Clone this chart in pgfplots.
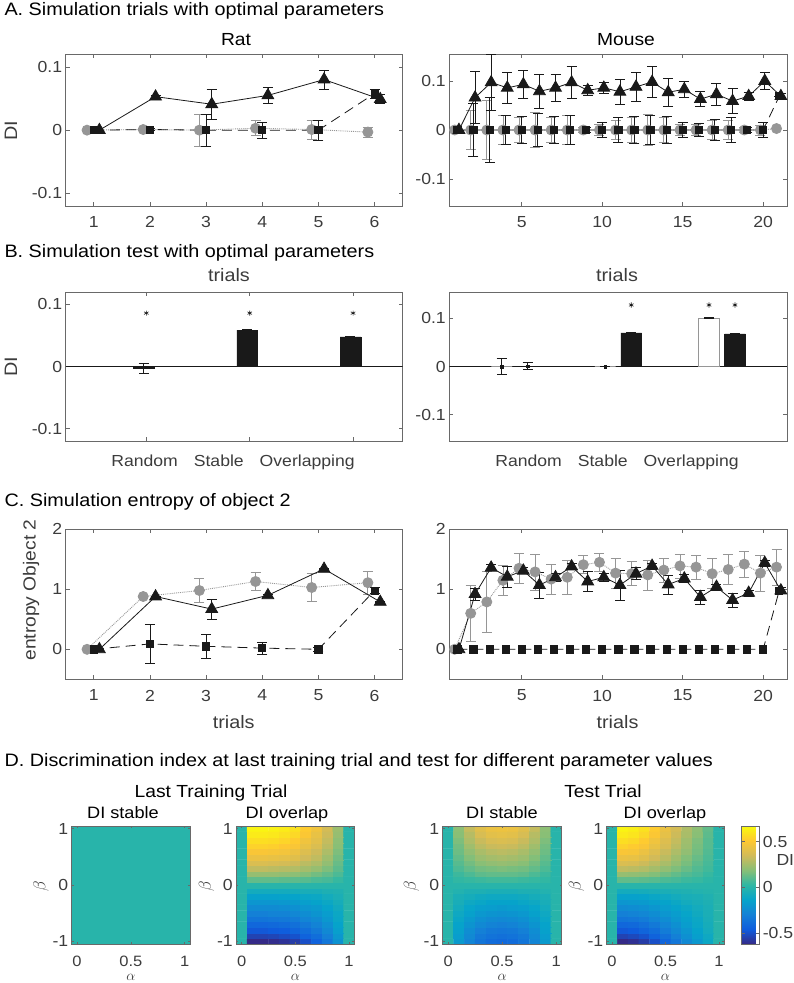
\documentclass[border=0pt]{standalone}
\usepackage{pgfplots}
\pgfplotsset{compat=1.18}
\usepackage{fontspec}
\setmainfont{Liberation Sans}[FakeStretch=1.1]
\newcommand\fs[1]{\fontsize{#1}{#1}\selectfont}
\definecolor{axcol}{RGB}{105,105,105}
\definecolor{tickcol}{RGB}{60,60,60}
\definecolor{cgray}{RGB}{150,150,150}
\definecolor{dark}{RGB}{25,25,25}
\pgfplotsset{
  colormap={parula}{rgb255=(53,42,135) rgb255=(15,92,221) rgb255=(20,129,214) rgb255=(6,164,202) rgb255=(46,183,164) rgb255=(135,191,119) rgb255=(209,187,89) rgb255=(254,200,50) rgb255=(249,251,14)},
  base/.style={scale only axis, anchor=north west, tick align=inside, tick pos=both,
    axis line style={axcol, line width=0.7pt}, major tick style={axcol, line width=0.7pt},
    major tick length=4pt, ticklabel style={font=\fs{16}, text=tickcol},
    xticklabel style={yshift=-7pt}},
  circ/.style={cgray, densely dotted, line width=0.9pt, mark=*, mark size=5pt,
    mark options={solid, fill=cgray, draw=cgray},
    error bars/y dir=both, error bars/y explicit,
    error bars/error bar style={cgray, solid, line width=0.8pt},
    error bars/error mark options={cgray, solid, line width=0.8pt, mark size=5pt, rotate=90}},
  sq/.style={dark, dash pattern=on 10pt off 6pt, line width=0.8pt, mark=square*, mark size=3.6pt,
    mark options={solid, fill=dark},
    error bars/y dir=both, error bars/y explicit,
    error bars/error bar style={dark, solid, line width=0.8pt},
    error bars/error mark options={dark, solid, line width=0.8pt, mark size=5pt, rotate=90}},
  sqn/.style={dark, dash pattern=on 10pt off 6pt, line width=0.8pt, mark=square*, mark size=3.6pt,
    mark options={solid, fill=dark}},
  tri/.style={dark, solid, line width=0.8pt, mark=triangle*, mark size=6.8pt,
    mark options={solid, fill=dark},
    error bars/y dir=both, error bars/y explicit,
    error bars/error bar style={dark, solid, line width=0.8pt},
    error bars/error mark options={dark, solid, line width=0.8pt, mark size=5pt, rotate=90}},
  barerr/.style={error bars/y dir=both, error bars/y explicit,
    error bars/error bar style={dark, line width=0.8pt},
    error bars/error mark options={dark, line width=0.8pt, mark size=5pt, rotate=90}},
  hm/.style={base, width=118pt, height=118pt, xmin=-0.05, xmax=1.05, ymin=-1.05, ymax=1.05,
    xtick={0,0.5,1}, xticklabels={0,0.5,1}, ytick={-1,0,1}, yticklabels={-1,0,1},
    major tick length=2pt, axis on top, colormap name=parula,
    point meta min=-0.62, point meta max=0.67,
    xticklabel style={yshift=-5pt, inner sep=0pt, font=\fs{15}}},
}
\begin{document}
\begin{tikzpicture}
\useasboundingbox (0,0) rectangle (793pt,-983pt);

% ---------------- A ----------------
\node[anchor=base west, font=\fs{18}] at (1pt,-15pt) {A. Simulation trials with optimal parameters};
\node[anchor=base, font=\fs{17.5}] at (236pt,-45pt) {Rat};
\node[anchor=base, font=\fs{17.5}] at (626pt,-45pt) {Mouse};
\node[rotate=90, font=\fs{18}, text=tickcol] at (11pt,-131pt) {DI};

\begin{axis}[base, at={(65.7pt,-54.3pt)}, width=337pt, height=151.7pt,
  xmin=0.5, xmax=6.5, ymin=-0.12, ymax=0.12,
  xtick={1,2,3,4,5,6}, xticklabels={1,2,3,4,5,6},
  ytick={-0.1,0,0.1}, yticklabels={-0.1,0,0.1}]
\addplot[circ] coordinates {(0.88,0) +- (0,0) (1.88,0.001) +- (0,0.001) (2.88,0) +- (0,0.025) (3.88,0.003) +- (0,0.012) (4.88,0.001) +- (0,0.015) (5.88,-0.003) +- (0,0.008)};
\addplot[sq] coordinates {(1,0) +- (0,0) (2,0.001) +- (0,0.001) (3,0) +- (0,0.025) (4,0) +- (0,0.013) (5,0) +- (0,0.016) (6,0.058) +- (0,0.007)};
\addplot[tri] coordinates {(1.1,0) +- (0,0) (2.1,0.053) +- (0,0.002) (3.1,0.041) +- (0,0.024) (4.1,0.055) +- (0,0.013) (5.1,0.08) +- (0,0.015) (6.1,0.049) +- (0,0.007)};
\end{axis}

\begin{axis}[base, at={(449.3pt,-54pt)}, width=338pt, height=152pt,
  xmin=0.5, xmax=21.5, ymin=-0.155, ymax=0.155,
  xtick={5,10,15,20}, xticklabels={5,10,15,20},
  ytick={-0.1,0,0.1}, yticklabels={-0.1,0,0.1}]
\addplot[circ] coordinates {(0.83,0) +- (0,0) (1.83,0) +- (0,0.04) (2.83,0) +- (0,0.06) (3.83,0) +- (0,0.03) (4.83,0) +- (0,0.025) (5.83,0) +- (0,0.035) (6.83,0) +- (0,0.025) (7.83,0) +- (0,0.03) (8.83,0) +- (0,0.005) (9.83,0) +- (0,0.012) (10.83,0) +- (0,0.02) (11.83,0) +- (0,0.025) (12.83,0) +- (0,0.032) (13.83,0) +- (0,0.025) (14.83,0) +- (0,0.012) (15.83,0) +- (0,0.012) (16.83,0) +- (0,0.02) (17.83,0) +- (0,0.02) (18.83,0) +- (0,0.005) (19.83,0) +- (0,0.01) (20.83,0.003) +- (0,0)};
\addplot[sq] coordinates {(1,0) +- (0,0) (2,0) +- (0,0.054) (3,0) +- (0,0.066) (4,0) +- (0,0.03) (5,0) +- (0,0.028) (6,0) +- (0,0.033) (7,0) +- (0,0.027) (8,0) +- (0,0.03) (9,0) +- (0,0.005) (10,0) +- (0,0.016) (11,0) +- (0,0.025) (12,0) +- (0,0.028) (13,0) +- (0,0.03) (14,0) +- (0,0.028) (15,0) +- (0,0.015) (16,0) +- (0,0.014) (17,0) +- (0,0.022) (18,0) +- (0,0.025) (19,0) +- (0,0.005) (20,0) +- (0,0.015) (21,0.069) +- (0,0)};
\addplot[tri] coordinates {(1.1,0) +- (0,0) (2.1,0.066) +- (0,0.053) (3.1,0.097) +- (0,0.058) (4.1,0.086) +- (0,0.031) (5.1,0.093) +- (0,0.029) (6.1,0.079) +- (0,0.034) (7.1,0.086) +- (0,0.027) (8.1,0.097) +- (0,0.032) (9.1,0.081) +- (0,0.01) (10.1,0.086) +- (0,0.011) (11.1,0.078) +- (0,0.025) (12.1,0.088) +- (0,0.029) (13.1,0.098) +- (0,0.032) (14.1,0.077) +- (0,0.028) (15.1,0.083) +- (0,0.016) (16.1,0.063) +- (0,0.015) (17.1,0.073) +- (0,0.023) (18.1,0.059) +- (0,0.026) (19.1,0.069) +- (0,0.008) (20.1,0.10) +- (0,0.017) (21.1,0.069) +- (0,0.005)};
\end{axis}

% ---------------- B ----------------
\node[anchor=base west, font=\fs{18}] at (1pt,-257.5pt) {B. Simulation test with optimal parameters};
\node[anchor=base, font=\fs{18}, text=tickcol] at (229pt,-281pt) {trials};
\node[anchor=base, font=\fs{18}, text=tickcol] at (617pt,-281pt) {trials};
\node[rotate=90, font=\fs{18}, text=tickcol] at (11pt,-367pt) {DI};

\begin{axis}[base, at={(65.7pt,-292pt)}, width=337pt, height=149pt,
  xmin=0.37, xmax=3.63, ymin=-0.12, ymax=0.12,
  xtick={1.15,2.15,3.15}, xticklabels={},
  ytick={-0.1,0,0.1}, yticklabels={-0.1,0,0.1}]
\addplot[dark, line width=0.7pt, forget plot] coordinates {(0.37,0) (3.63,0)};
\addplot[ybar, bar width=0.2, bar shift=0pt, fill=dark, draw=dark, barerr] coordinates {(1.125,-0.003) +- (0,0.0085) (2.125,0.0585) +- (0,0.001) (3.125,0.0477) +- (0,0.001)};
\addplot[only marks, mark=asterisk, mark size=2.6pt, dark, line width=0.6pt] coordinates {(1.15,0.086) (2.15,0.086) (3.15,0.086)};
\end{axis}

\begin{axis}[base, at={(449.3pt,-292pt)}, width=338pt, height=149pt,
  xmin=0.37, xmax=3.63, ymin=-0.155, ymax=0.155,
  xtick=\empty,
  ytick={-0.1,0,0.1}, yticklabels={-0.1,0,0.1}]
\addplot[dark, line width=0.7pt, forget plot] coordinates {(0.37,0) (3.63,0)};
\addplot[ybar, bar width=0.2, bar shift=0pt, fill=white, draw=cgray, barerr] coordinates {(0.875,0) +- (0,0.0167) (1.875,0) +- (0,0) (2.875,0.101) +- (0,0.001)};
\addplot[ybar, bar width=0.2, bar shift=0pt, fill=dark, draw=dark, barerr] coordinates {(1.125,0.001) +- (0,0.008) (2.125,0.07) +- (0,0.001) (3.125,0.068) +- (0,0.001)};
\addplot[only marks, mark=square*, mark size=1.3pt, dark] coordinates {(0.875,0) (1.125,0.001) (1.875,0)};
\addplot[only marks, mark=asterisk, mark size=2.6pt, dark, line width=0.6pt] coordinates {(2.125,0.128) (2.875,0.128) (3.125,0.128)};
\end{axis}
\node[anchor=base, font=\fs{16}, text=tickcol] at (233pt,-466.7pt) {Random\hspace{16pt}Stable\hspace{16pt}Overlapping};
\node[anchor=base, font=\fs{16}, text=tickcol] at (617pt,-466.7pt) {Random\hspace{16pt}Stable\hspace{16pt}Overlapping};

% ---------------- C ----------------
\node[anchor=base west, font=\fs{18}] at (1pt,-506pt) {C. Simulation entropy of object 2};
\node[rotate=90, font=\fs{17.5}, text=tickcol] at (31pt,-590pt) {entropy Object 2};
\node[anchor=base, font=\fs{18}, text=tickcol] at (233.7pt,-728pt) {trials};
\node[anchor=base, font=\fs{18}, text=tickcol] at (617.5pt,-728pt) {trials};

\begin{axis}[base, at={(65.7pt,-529.3pt)}, width=337pt, height=150pt,
  xmin=0.5, xmax=6.5, ymin=-0.5, ymax=2,
  xtick={1,2,3,4,5,6}, xticklabels={1,2,3,4,5,6},
  ytick={0,1,2}, yticklabels={0,1,2}]
\addplot[circ] coordinates {(0.88,0) +- (0,0) (1.88,0.88) +- (0,0.01) (2.88,0.98) +- (0,0.2) (3.88,1.13) +- (0,0.15) (4.88,1.03) +- (0,0.23) (5.88,1.11) +- (0,0.19)};
\addplot[sq] coordinates {(1,0) +- (0,0) (2,0.09) +- (0,0.33) (3,0.05) +- (0,0.2) (4,0.02) +- (0,0.1) (5,0) +- (0,0.03) (6,0.98) +- (0,0.05)};
\addplot[tri] coordinates {(1.1,0) +- (0,0) (2.1,0.88) +- (0,0.01) (3.1,0.67) +- (0,0.17) (4.1,0.9) +- (0,0.01) (5.1,1.34) +- (0,0.01) (6.1,0.79) +- (0,0.01)};
\end{axis}

\begin{axis}[base, at={(449.3pt,-529.3pt)}, width=338pt, height=150pt,
  xmin=0.5, xmax=21.5, ymin=-0.5, ymax=2,
  xtick={5,10,15,20}, xticklabels={5,10,15,20},
  ytick={0,1,2}, yticklabels={0,1,2}]
\addplot[circ] coordinates {(0.83,0) +- (0,0) (1.83,0.6) +- (0,0.46) (2.83,0.79) +- (0,0.51) (3.83,1.15) +- (0,0.25) (4.83,1.35) +- (0,0.25) (5.83,1.29) +- (0,0.3) (6.83,1.17) +- (0,0.25) (7.83,1.2) +- (0,0.28) (8.83,1.41) +- (0,0.15) (9.83,1.45) +- (0,0.15) (10.83,1.27) +- (0,0.25) (11.83,1.26) +- (0,0.2) (12.83,1.24) +- (0,0.25) (13.83,1.32) +- (0,0.2) (14.83,1.39) +- (0,0.2) (15.83,1.37) +- (0,0.2) (16.83,1.26) +- (0,0.25) (17.83,1.33) +- (0,0.25) (18.83,1.42) +- (0,0.22) (19.83,1.27) +- (0,0.3) (20.83,1.37) +- (0,0.3)};
\addplot[sqn] coordinates {(1,0) (2,0) (3,0) (4,0) (5,0) (6,0) (7,0) (8,0) (9,0) (10,0) (11,0) (12,0) (13,0) (14,0) (15,0) (16,0) (17,0) (18,0) (19,0) (20,0) (21,0.98)};
\addplot[tri] coordinates {(1.1,0) +- (0,0) (2.1,0.92) +- (0,0.1) (3.1,1.36) +- (0,0.05) (4.1,1.21) +- (0,0.17) (5.1,1.31) +- (0,0.05) (6.1,1.07) +- (0,0.22) (7.1,1.2) +- (0,0.06) (8.1,1.38) +- (0,0.05) (9.1,1.13) +- (0,0.17) (10.1,1.2) +- (0,0.06) (11.1,1.07) +- (0,0.25) (12.1,1.26) +- (0,0.1) (13.1,1.39) +- (0,0.05) (14.1,1.08) +- (0,0.16) (15.1,1.18) +- (0,0.07) (16.1,0.87) +- (0,0.12) (17.1,1.04) +- (0,0.05) (18.1,0.82) +- (0,0.12) (19.1,0.94) +- (0,0.05) (20.1,1.44) +- (0,0.05) (21.1,0.98) +- (0,0.05)};
\end{axis}

% ---------------- D ----------------
\node[anchor=base west, font=\fs{18}] at (1pt,-766pt) {D. Discrimination index at last training trial and test for different parameter values};
\node[anchor=base, font=\fs{17.5}] at (211pt,-797pt) {Last Training Trial};
\node[anchor=base, font=\fs{17.5}] at (603pt,-797pt) {Test Trial};
\node[anchor=base, font=\fs{16.5}] at (123pt,-818pt) {DI stable};
\node[anchor=base, font=\fs{16.5}] at (287pt,-818pt) {DI overlap};
\node[anchor=base, font=\fs{16.5}] at (502pt,-818pt) {DI stable};
\node[anchor=base, font=\fs{16.5}] at (665pt,-818pt) {DI overlap};
\foreach \bx in {41,206.5,411.5,576.5} {\node[rotate=90, font=\fs{16}, text=tickcol] at (\bx pt,-886pt) {$\beta$};}
\foreach \ax in {130.8,295.3,502.2,665.5} {\node[font=\fs{15}, text=tickcol, inner sep=0pt] at (\ax pt,-977.5pt) {$\alpha$};}
\node[anchor=west, font=\fs{16}, text=tickcol] at (773pt,-860pt) {DI};

\begin{axis}[hm, at={(71.7pt,-826pt)}, width=118.3pt]
\addplot[matrix plot*, mesh/cols=2, point meta=explicit] coordinates {(0,-1) [0] (1,-1) [0] (0,1) [0] (1,1) [0]};
\end{axis}

\begin{axis}[hm, at={(236.3pt,-826pt)}]
\addplot[matrix plot*, mesh/cols=11, point meta=explicit] coordinates {
(0,-1) [0] (0.1,-1) [-0.62] (0.2,-1) [-0.62] (0.3,-1) [-0.61] (0.4,-1) [-0.59] (0.5,-1) [-0.56] (0.6,-1) [-0.50] (0.7,-1) [-0.43] (0.8,-1) [-0.34] (0.9,-1) [-0.22] (1,-1) [0]
(0,-0.9) [0] (0.1,-0.9) [-0.54] (0.2,-0.9) [-0.54] (0.3,-0.9) [-0.53] (0.4,-0.9) [-0.51] (0.5,-0.9) [-0.49] (0.6,-0.9) [-0.43] (0.7,-0.9) [-0.38] (0.8,-0.9) [-0.30] (0.9,-0.9) [-0.19] (1,-0.9) [0]
(0,-0.8) [0] (0.1,-0.8) [-0.47] (0.2,-0.8) [-0.47] (0.3,-0.8) [-0.46] (0.4,-0.8) [-0.45] (0.5,-0.8) [-0.42] (0.6,-0.8) [-0.38] (0.7,-0.8) [-0.33] (0.8,-0.8) [-0.26] (0.9,-0.8) [-0.16] (1,-0.8) [0]
(0,-0.7) [0] (0.1,-0.7) [-0.41] (0.2,-0.7) [-0.41] (0.3,-0.7) [-0.40] (0.4,-0.7) [-0.39] (0.5,-0.7) [-0.37] (0.6,-0.7) [-0.33] (0.7,-0.7) [-0.29] (0.8,-0.7) [-0.23] (0.9,-0.7) [-0.14] (1,-0.7) [0]
(0,-0.6) [0] (0.1,-0.6) [-0.35] (0.2,-0.6) [-0.35] (0.3,-0.6) [-0.34] (0.4,-0.6) [-0.33] (0.5,-0.6) [-0.32] (0.6,-0.6) [-0.28] (0.7,-0.6) [-0.25] (0.8,-0.6) [-0.19] (0.9,-0.6) [-0.12] (1,-0.6) [0]
(0,-0.5) [0] (0.1,-0.5) [-0.30] (0.2,-0.5) [-0.30] (0.3,-0.5) [-0.29] (0.4,-0.5) [-0.29] (0.5,-0.5) [-0.27] (0.6,-0.5) [-0.24] (0.7,-0.5) [-0.21] (0.8,-0.5) [-0.17] (0.9,-0.5) [-0.11] (1,-0.5) [0]
(0,-0.4) [0] (0.1,-0.4) [-0.25] (0.2,-0.4) [-0.25] (0.3,-0.4) [-0.25] (0.4,-0.4) [-0.24] (0.5,-0.4) [-0.23] (0.6,-0.4) [-0.20] (0.7,-0.4) [-0.18] (0.8,-0.4) [-0.14] (0.9,-0.4) [-0.09] (1,-0.4) [0]
(0,-0.3) [0] (0.1,-0.3) [-0.20] (0.2,-0.3) [-0.20] (0.3,-0.3) [-0.20] (0.4,-0.3) [-0.19] (0.5,-0.3) [-0.18] (0.6,-0.3) [-0.16] (0.7,-0.3) [-0.14] (0.8,-0.3) [-0.11] (0.9,-0.3) [-0.07] (1,-0.3) [0]
(0,-0.2) [0] (0.1,-0.2) [-0.15] (0.2,-0.2) [-0.15] (0.3,-0.2) [-0.15] (0.4,-0.2) [-0.14] (0.5,-0.2) [-0.14] (0.6,-0.2) [-0.12] (0.7,-0.2) [-0.11] (0.8,-0.2) [-0.08] (0.9,-0.2) [-0.05] (1,-0.2) [0]
(0,-0.1) [0] (0.1,-0.1) [-0.08] (0.2,-0.1) [-0.08] (0.3,-0.1) [-0.08] (0.4,-0.1) [-0.08] (0.5,-0.1) [-0.07] (0.6,-0.1) [-0.06] (0.7,-0.1) [-0.06] (0.8,-0.1) [-0.04] (0.9,-0.1) [-0.03] (1,-0.1) [0]
(0,0) [0] (0.1,0) [0] (0.2,0) [0] (0.3,0) [0] (0.4,0) [0] (0.5,0) [0] (0.6,0) [0] (0.7,0) [0] (0.8,0) [0] (0.9,0) [0] (1,0) [0]
(0,0.1) [0] (0.1,0.1) [0.12] (0.2,0.1) [0.12] (0.3,0.1) [0.12] (0.4,0.1) [0.11] (0.5,0.1) [0.11] (0.6,0.1) [0.10] (0.7,0.1) [0.08] (0.8,0.1) [0.07] (0.9,0.1) [0.04] (1,0.1) [0]
(0,0.2) [0] (0.1,0.2) [0.22] (0.2,0.2) [0.22] (0.3,0.2) [0.22] (0.4,0.2) [0.21] (0.5,0.2) [0.20] (0.6,0.2) [0.18] (0.7,0.2) [0.15] (0.8,0.2) [0.12] (0.9,0.2) [0.08] (1,0.2) [0]
(0,0.3) [0] (0.1,0.3) [0.31] (0.2,0.3) [0.31] (0.3,0.3) [0.30] (0.4,0.3) [0.29] (0.5,0.3) [0.28] (0.6,0.3) [0.25] (0.7,0.3) [0.22] (0.8,0.3) [0.17] (0.9,0.3) [0.11] (1,0.3) [0]
(0,0.4) [0] (0.1,0.4) [0.38] (0.2,0.4) [0.38] (0.3,0.4) [0.37] (0.4,0.4) [0.36] (0.5,0.4) [0.34] (0.6,0.4) [0.30] (0.7,0.4) [0.27] (0.8,0.4) [0.21] (0.9,0.4) [0.13] (1,0.4) [0]
(0,0.5) [0] (0.1,0.5) [0.44] (0.2,0.5) [0.44] (0.3,0.5) [0.43] (0.4,0.5) [0.42] (0.5,0.5) [0.40] (0.6,0.5) [0.35] (0.7,0.5) [0.31] (0.8,0.5) [0.24] (0.9,0.5) [0.15] (1,0.5) [0]
(0,0.6) [0] (0.1,0.6) [0.49] (0.2,0.6) [0.49] (0.3,0.6) [0.48] (0.4,0.6) [0.47] (0.5,0.6) [0.44] (0.6,0.6) [0.39] (0.7,0.6) [0.34] (0.8,0.6) [0.27] (0.9,0.6) [0.17] (1,0.6) [0]
(0,0.7) [0] (0.1,0.7) [0.54] (0.2,0.7) [0.54] (0.3,0.7) [0.53] (0.4,0.7) [0.51] (0.5,0.7) [0.49] (0.6,0.7) [0.43] (0.7,0.7) [0.38] (0.8,0.7) [0.30] (0.9,0.7) [0.19] (1,0.7) [0]
(0,0.8) [0] (0.1,0.8) [0.58] (0.2,0.8) [0.58] (0.3,0.8) [0.57] (0.4,0.8) [0.55] (0.5,0.8) [0.52] (0.6,0.8) [0.46] (0.7,0.8) [0.41] (0.8,0.8) [0.32] (0.9,0.8) [0.20] (1,0.8) [0]
(0,0.9) [0] (0.1,0.9) [0.62] (0.2,0.9) [0.62] (0.3,0.9) [0.61] (0.4,0.9) [0.59] (0.5,0.9) [0.56] (0.6,0.9) [0.50] (0.7,0.9) [0.43] (0.8,0.9) [0.34] (0.9,0.9) [0.22] (1,0.9) [0]
(0,1) [0] (0.1,1) [0.65] (0.2,1) [0.65] (0.3,1) [0.64] (0.4,1) [0.62] (0.5,1) [0.59] (0.6,1) [0.52] (0.7,1) [0.46] (0.8,1) [0.36] (0.9,1) [0.23] (1,1) [0]
};
\end{axis}

\begin{axis}[hm, at={(442.7pt,-826pt)}, width=119pt]
\addplot[matrix plot*, mesh/cols=11, point meta=explicit] coordinates {
(0,-1) [0] (0.1,-1) [-0.18] (0.2,-1) [-0.28] (0.3,-1) [-0.35] (0.4,-1) [-0.39] (0.5,-1) [-0.40] (0.6,-1) [-0.39] (0.7,-1) [-0.35] (0.8,-1) [-0.28] (0.9,-1) [-0.18] (1,-1) [0]
(0,-0.9) [0] (0.1,-0.9) [-0.17] (0.2,-0.9) [-0.26] (0.3,-0.9) [-0.33] (0.4,-0.9) [-0.36] (0.5,-0.9) [-0.37] (0.6,-0.9) [-0.36] (0.7,-0.9) [-0.33] (0.8,-0.9) [-0.26] (0.9,-0.9) [-0.17] (1,-0.9) [0]
(0,-0.8) [0] (0.1,-0.8) [-0.15] (0.2,-0.8) [-0.24] (0.3,-0.8) [-0.30] (0.4,-0.8) [-0.33] (0.5,-0.8) [-0.34] (0.6,-0.8) [-0.33] (0.7,-0.8) [-0.30] (0.8,-0.8) [-0.24] (0.9,-0.8) [-0.15] (1,-0.8) [0]
(0,-0.7) [0] (0.1,-0.7) [-0.14] (0.2,-0.7) [-0.21] (0.3,-0.7) [-0.26] (0.4,-0.7) [-0.29] (0.5,-0.7) [-0.30] (0.6,-0.7) [-0.29] (0.7,-0.7) [-0.26] (0.8,-0.7) [-0.21] (0.9,-0.7) [-0.14] (1,-0.7) [0]
(0,-0.6) [0] (0.1,-0.6) [-0.12] (0.2,-0.6) [-0.18] (0.3,-0.6) [-0.23] (0.4,-0.6) [-0.25] (0.5,-0.6) [-0.26] (0.6,-0.6) [-0.25] (0.7,-0.6) [-0.23] (0.8,-0.6) [-0.18] (0.9,-0.6) [-0.12] (1,-0.6) [0]
(0,-0.5) [0] (0.1,-0.5) [-0.10] (0.2,-0.5) [-0.15] (0.3,-0.5) [-0.19] (0.4,-0.5) [-0.21] (0.5,-0.5) [-0.22] (0.6,-0.5) [-0.21] (0.7,-0.5) [-0.19] (0.8,-0.5) [-0.15] (0.9,-0.5) [-0.10] (1,-0.5) [0]
(0,-0.4) [0] (0.1,-0.4) [-0.08] (0.2,-0.4) [-0.13] (0.3,-0.4) [-0.16] (0.4,-0.4) [-0.17] (0.5,-0.4) [-0.18] (0.6,-0.4) [-0.17] (0.7,-0.4) [-0.16] (0.8,-0.4) [-0.13] (0.9,-0.4) [-0.08] (1,-0.4) [0]
(0,-0.3) [0] (0.1,-0.3) [-0.06] (0.2,-0.3) [-0.10] (0.3,-0.3) [-0.12] (0.4,-0.3) [-0.14] (0.5,-0.3) [-0.14] (0.6,-0.3) [-0.14] (0.7,-0.3) [-0.12] (0.8,-0.3) [-0.10] (0.9,-0.3) [-0.06] (1,-0.3) [0]
(0,-0.2) [0] (0.1,-0.2) [-0.05] (0.2,-0.2) [-0.07] (0.3,-0.2) [-0.09] (0.4,-0.2) [-0.10] (0.5,-0.2) [-0.10] (0.6,-0.2) [-0.10] (0.7,-0.2) [-0.09] (0.8,-0.2) [-0.07] (0.9,-0.2) [-0.05] (1,-0.2) [0]
(0,-0.1) [0] (0.1,-0.1) [-0.02] (0.2,-0.1) [-0.04] (0.3,-0.1) [-0.04] (0.4,-0.1) [-0.05] (0.5,-0.1) [-0.05] (0.6,-0.1) [-0.05] (0.7,-0.1) [-0.04] (0.8,-0.1) [-0.04] (0.9,-0.1) [-0.02] (1,-0.1) [0]
(0,0) [0] (0.1,0) [0] (0.2,0) [0] (0.3,0) [0] (0.4,0) [0] (0.5,0) [0] (0.6,0) [0] (0.7,0) [0] (0.8,0) [0] (0.9,0) [0] (1,0) [0]
(0,0.1) [0] (0.1,0.1) [0.03] (0.2,0.1) [0.04] (0.3,0.1) [0.05] (0.4,0.1) [0.06] (0.5,0.1) [0.06] (0.6,0.1) [0.06] (0.7,0.1) [0.05] (0.8,0.1) [0.04] (0.9,0.1) [0.03] (1,0.1) [0]
(0,0.2) [0] (0.1,0.2) [0.05] (0.2,0.2) [0.08] (0.3,0.2) [0.11] (0.4,0.2) [0.12] (0.5,0.2) [0.12] (0.6,0.2) [0.12] (0.7,0.2) [0.11] (0.8,0.2) [0.08] (0.9,0.2) [0.05] (1,0.2) [0]
(0,0.3) [0] (0.1,0.3) [0.08] (0.2,0.3) [0.12] (0.3,0.3) [0.15] (0.4,0.3) [0.16] (0.5,0.3) [0.17] (0.6,0.3) [0.16] (0.7,0.3) [0.15] (0.8,0.3) [0.12] (0.9,0.3) [0.08] (1,0.3) [0]
(0,0.4) [0] (0.1,0.4) [0.10] (0.2,0.4) [0.15] (0.3,0.4) [0.19] (0.4,0.4) [0.21] (0.5,0.4) [0.22] (0.6,0.4) [0.21] (0.7,0.4) [0.19] (0.8,0.4) [0.15] (0.9,0.4) [0.10] (1,0.4) [0]
(0,0.5) [0] (0.1,0.5) [0.12] (0.2,0.5) [0.18] (0.3,0.5) [0.23] (0.4,0.5) [0.25] (0.5,0.5) [0.26] (0.6,0.5) [0.25] (0.7,0.5) [0.23] (0.8,0.5) [0.18] (0.9,0.5) [0.12] (1,0.5) [0]
(0,0.6) [0] (0.1,0.6) [0.14] (0.2,0.6) [0.21] (0.3,0.6) [0.26] (0.4,0.6) [0.29] (0.5,0.6) [0.30] (0.6,0.6) [0.29] (0.7,0.6) [0.26] (0.8,0.6) [0.21] (0.9,0.6) [0.14] (1,0.6) [0]
(0,0.7) [0] (0.1,0.7) [0.15] (0.2,0.7) [0.24] (0.3,0.7) [0.30] (0.4,0.7) [0.33] (0.5,0.7) [0.34] (0.6,0.7) [0.33] (0.7,0.7) [0.30] (0.8,0.7) [0.24] (0.9,0.7) [0.15] (1,0.7) [0]
(0,0.8) [0] (0.1,0.8) [0.17] (0.2,0.8) [0.27] (0.3,0.8) [0.33] (0.4,0.8) [0.37] (0.5,0.8) [0.38] (0.6,0.8) [0.37] (0.7,0.8) [0.33] (0.8,0.8) [0.27] (0.9,0.8) [0.17] (1,0.8) [0]
(0,0.9) [0] (0.1,0.9) [0.19] (0.2,0.9) [0.29] (0.3,0.9) [0.37] (0.4,0.9) [0.41] (0.5,0.9) [0.42] (0.6,0.9) [0.41] (0.7,0.9) [0.37] (0.8,0.9) [0.29] (0.9,0.9) [0.19] (1,0.9) [0]
(0,1) [0] (0.1,1) [0.20] (0.2,1) [0.32] (0.3,1) [0.40] (0.4,1) [0.44] (0.5,1) [0.45] (0.6,1) [0.44] (0.7,1) [0.40] (0.8,1) [0.32] (0.9,1) [0.20] (1,1) [0]
};
\end{axis}

\begin{axis}[hm, at={(606.7pt,-826pt)}, width=117.6pt,
  colorbar, colorbar shift/.style={xshift=17.4pt},
  colorbar style={at={(parent axis.north east)}, anchor=north west, width=17.6pt,
    ytick={-0.5,0,0.5}, yticklabels={-0.5,0,0.5}, tick align=inside, major tick length=3pt,
    axis line style={axcol, line width=0.7pt}, major tick style={axcol},
    yticklabel style={font=\fs{16}, text=tickcol}}]
\addplot[matrix plot*, mesh/cols=11, point meta=explicit] coordinates {
(0,-1) [0] (0.1,-1) [-0.62] (0.2,-1) [-0.60] (0.3,-1) [-0.56] (0.4,-1) [-0.50] (0.5,-1) [-0.42] (0.6,-1) [-0.34] (0.7,-1) [-0.26] (0.8,-1) [-0.19] (0.9,-1) [-0.11] (1,-1) [0]
(0,-0.9) [0] (0.1,-0.9) [-0.54] (0.2,-0.9) [-0.52] (0.3,-0.9) [-0.49] (0.4,-0.9) [-0.43] (0.5,-0.9) [-0.37] (0.6,-0.9) [-0.30] (0.7,-0.9) [-0.23] (0.8,-0.9) [-0.16] (0.9,-0.9) [-0.10] (1,-0.9) [0]
(0,-0.8) [0] (0.1,-0.8) [-0.47] (0.2,-0.8) [-0.46] (0.3,-0.8) [-0.42] (0.4,-0.8) [-0.38] (0.5,-0.8) [-0.32] (0.6,-0.8) [-0.26] (0.7,-0.8) [-0.20] (0.8,-0.8) [-0.14] (0.9,-0.8) [-0.08] (1,-0.8) [0]
(0,-0.7) [0] (0.1,-0.7) [-0.41] (0.2,-0.7) [-0.40] (0.3,-0.7) [-0.37] (0.4,-0.7) [-0.33] (0.5,-0.7) [-0.28] (0.6,-0.7) [-0.23] (0.7,-0.7) [-0.17] (0.8,-0.7) [-0.12] (0.9,-0.7) [-0.07] (1,-0.7) [0]
(0,-0.6) [0] (0.1,-0.6) [-0.35] (0.2,-0.6) [-0.34] (0.3,-0.6) [-0.32] (0.4,-0.6) [-0.28] (0.5,-0.6) [-0.24] (0.6,-0.6) [-0.19] (0.7,-0.6) [-0.15] (0.8,-0.6) [-0.11] (0.9,-0.6) [-0.06] (1,-0.6) [0]
(0,-0.5) [0] (0.1,-0.5) [-0.30] (0.2,-0.5) [-0.29] (0.3,-0.5) [-0.27] (0.4,-0.5) [-0.24] (0.5,-0.5) [-0.20] (0.6,-0.5) [-0.17] (0.7,-0.5) [-0.13] (0.8,-0.5) [-0.09] (0.9,-0.5) [-0.05] (1,-0.5) [0]
(0,-0.4) [0] (0.1,-0.4) [-0.25] (0.2,-0.4) [-0.24] (0.3,-0.4) [-0.23] (0.4,-0.4) [-0.20] (0.5,-0.4) [-0.17] (0.6,-0.4) [-0.14] (0.7,-0.4) [-0.11] (0.8,-0.4) [-0.08] (0.9,-0.4) [-0.05] (1,-0.4) [0]
(0,-0.3) [0] (0.1,-0.3) [-0.20] (0.2,-0.3) [-0.19] (0.3,-0.3) [-0.18] (0.4,-0.3) [-0.16] (0.5,-0.3) [-0.14] (0.6,-0.3) [-0.11] (0.7,-0.3) [-0.08] (0.8,-0.3) [-0.06] (0.9,-0.3) [-0.04] (1,-0.3) [0]
(0,-0.2) [0] (0.1,-0.2) [-0.15] (0.2,-0.2) [-0.15] (0.3,-0.2) [-0.14] (0.4,-0.2) [-0.12] (0.5,-0.2) [-0.10] (0.6,-0.2) [-0.08] (0.7,-0.2) [-0.06] (0.8,-0.2) [-0.05] (0.9,-0.2) [-0.03] (1,-0.2) [0]
(0,-0.1) [0] (0.1,-0.1) [-0.08] (0.2,-0.1) [-0.08] (0.3,-0.1) [-0.07] (0.4,-0.1) [-0.06] (0.5,-0.1) [-0.05] (0.6,-0.1) [-0.04] (0.7,-0.1) [-0.03] (0.8,-0.1) [-0.02] (0.9,-0.1) [-0.01] (1,-0.1) [0]
(0,0) [0] (0.1,0) [0] (0.2,0) [0] (0.3,0) [0] (0.4,0) [0] (0.5,0) [0] (0.6,0) [0] (0.7,0) [0] (0.8,0) [0] (0.9,0) [0] (1,0) [0]
(0,0.1) [0] (0.1,0.1) [0.12] (0.2,0.1) [0.12] (0.3,0.1) [0.11] (0.4,0.1) [0.10] (0.5,0.1) [0.08] (0.6,0.1) [0.07] (0.7,0.1) [0.05] (0.8,0.1) [0.04] (0.9,0.1) [0.02] (1,0.1) [0]
(0,0.2) [0] (0.1,0.2) [0.22] (0.2,0.2) [0.21] (0.3,0.2) [0.20] (0.4,0.2) [0.18] (0.5,0.2) [0.15] (0.6,0.2) [0.12] (0.7,0.2) [0.09] (0.8,0.2) [0.07] (0.9,0.2) [0.04] (1,0.2) [0]
(0,0.3) [0] (0.1,0.3) [0.31] (0.2,0.3) [0.30] (0.3,0.3) [0.28] (0.4,0.3) [0.25] (0.5,0.3) [0.21] (0.6,0.3) [0.17] (0.7,0.3) [0.13] (0.8,0.3) [0.09] (0.9,0.3) [0.06] (1,0.3) [0]
(0,0.4) [0] (0.1,0.4) [0.38] (0.2,0.4) [0.37] (0.3,0.4) [0.34] (0.4,0.4) [0.30] (0.5,0.4) [0.26] (0.6,0.4) [0.21] (0.7,0.4) [0.16] (0.8,0.4) [0.11] (0.9,0.4) [0.07] (1,0.4) [0]
(0,0.5) [0] (0.1,0.5) [0.44] (0.2,0.5) [0.43] (0.3,0.5) [0.40] (0.4,0.5) [0.35] (0.5,0.5) [0.30] (0.6,0.5) [0.24] (0.7,0.5) [0.18] (0.8,0.5) [0.13] (0.9,0.5) [0.08] (1,0.5) [0]
(0,0.6) [0] (0.1,0.6) [0.49] (0.2,0.6) [0.48] (0.3,0.6) [0.44] (0.4,0.6) [0.39] (0.5,0.6) [0.33] (0.6,0.6) [0.27] (0.7,0.6) [0.21] (0.8,0.6) [0.15] (0.9,0.6) [0.09] (1,0.6) [0]
(0,0.7) [0] (0.1,0.7) [0.54] (0.2,0.7) [0.52] (0.3,0.7) [0.49] (0.4,0.7) [0.43] (0.5,0.7) [0.37] (0.6,0.7) [0.30] (0.7,0.7) [0.23] (0.8,0.7) [0.16] (0.9,0.7) [0.10] (1,0.7) [0]
(0,0.8) [0] (0.1,0.8) [0.58] (0.2,0.8) [0.56] (0.3,0.8) [0.52] (0.4,0.8) [0.46] (0.5,0.8) [0.39] (0.6,0.8) [0.32] (0.7,0.8) [0.24] (0.8,0.8) [0.17] (0.9,0.8) [0.10] (1,0.8) [0]
(0,0.9) [0] (0.1,0.9) [0.62] (0.2,0.9) [0.60] (0.3,0.9) [0.56] (0.4,0.9) [0.50] (0.5,0.9) [0.42] (0.6,0.9) [0.34] (0.7,0.9) [0.26] (0.8,0.9) [0.19] (0.9,0.9) [0.11] (1,0.9) [0]
(0,1) [0] (0.1,1) [0.65] (0.2,1) [0.63] (0.3,1) [0.59] (0.4,1) [0.52] (0.5,1) [0.44] (0.6,1) [0.36] (0.7,1) [0.27] (0.8,1) [0.20] (0.9,1) [0.12] (1,1) [0]
};
\end{axis}
\end{tikzpicture}
\end{document}
